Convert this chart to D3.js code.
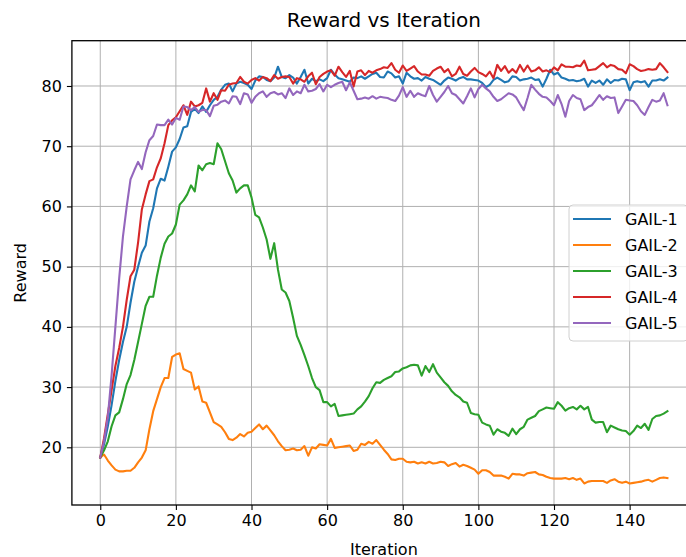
<!DOCTYPE html>
<html><head><meta charset="utf-8">
<script src="https://cdn.jsdelivr.net/npm/d3@7"></script>
<style>body{margin:0;background:#fff}svg{display:block;font-family:"DejaVu Sans",sans-serif}</style>
</head><body><svg id="c" width="686" height="557"></svg>
<script>
const seriesNames = ["GAIL-1","GAIL-2","GAIL-3","GAIL-4","GAIL-5"];
const colors = ["#1f77b4","#ff7f0e","#2ca02c","#d62728","#9467bd"];
const xTicks = [0,20,40,60,80,100,120,140];
const yTicks = [20,30,40,50,60,70,80];

const gail1 = [18.3,20.5,23.5,27,31,34.5,37.5,40,44,47.5,50,52.3,53.5,57.5,59.7,63,64.6,64.3,66.6,69.1,
69.8,71.2,73.1,73.3,75.7,76.2,75.5,76.6,75.7,76.8,77.7,78.2,79.4,80.2,80.4,79.1,80.4,80.7,80.5,80.2,
79.5,80.9,81.6,81.5,81,80.8,81.4,83.2,81.5,81.3,81.8,81.4,80.4,81.5,82.7,80.4,81.2,80.8,81.1,80.8,
81.3,82.7,81.9,81.3,81.1,80.9,80.7,81.4,81.3,81.6,81.2,81.6,82,82.2,81.5,81.4,82.4,82.1,81.4,81.6,
80.4,82.2,81.6,81.2,81.3,80.9,81.5,81.2,81,80.6,80.2,80.9,81.4,81.2,80.9,81.3,81.5,81.1,81.1,81,
80.9,80.5,79.8,80.2,81,81.4,81,80.6,80.8,81.6,81.5,80.9,81.1,81.2,81.4,81,81.1,79.9,81.2,82.7,
81.9,82.2,81.4,81.2,80.9,81,80.8,80.9,81.2,79.9,80.9,80.5,80.9,80.2,81.1,80.5,81,80.9,81.2,81.1,
79.3,80.6,80.8,80.6,80.8,79.9,80.9,80.9,81.1,80.9,81.4];
const gail2 = [18.3,18.8,17.8,17,16.3,16,16,16.1,16.1,16.6,17.5,18.3,19.5,23,26,28,30,31.5,31.5,35,
35.4,35.6,33,32.7,32.4,29.6,30.1,27.6,27.4,25.8,24.2,23.8,23.4,22.5,21.4,21.2,21.6,22.2,21.8,22.4,
22.6,23.2,23.8,23,23.6,22.8,22,21,20.2,19.5,19.6,19.8,19.5,19.6,20.2,18.6,20,19.8,20.5,20.4,
20.3,21.4,19.9,20,20.1,20.2,20.3,19.4,19.6,20.6,20.4,20.9,20.6,21.2,20.4,19.6,18.9,18,17.9,18.1,
18.1,17.6,17.5,17.6,17.3,17.5,17.3,17.6,17.3,17.4,17.6,17.5,16.9,17.2,17.4,16.8,17.1,16.9,16.6,16.3,
15.6,16.2,16.2,15.9,15.3,15.3,15.3,15.1,14.8,15.6,15.5,15.5,15.3,15.7,15.8,15.9,15.5,15.4,15.1,14.9,
14.8,14.8,14.8,14.9,14.7,14.9,14.6,14.8,14,14.3,14.4,14.4,14.4,14.4,14.1,14.5,14.7,14.3,14.1,14.3,
14,14.1,14.2,14.3,14.5,14.6,14.3,14.6,14.9,15,14.9];
const gail3 = [18.3,19.5,21,23.5,25.3,25.8,28,30.5,32,34.5,37.5,40.5,43.5,45,45,48.5,51.5,53.8,55,55.5,
57,60.3,61,62,63.5,62.5,66.8,66,67,67.2,67,70.5,69.5,67.5,65.5,64.3,62.3,63,63.5,63.5,
61.5,58.6,58.2,56.5,54.5,51.3,53.9,49.5,46.2,45.7,44.3,41.5,38.5,37,35.3,33.5,31.5,30,29.5,27.5,
27.5,26.8,27.2,25.2,25.3,25.4,25.5,25.6,26.3,26.8,27.6,28.5,29.8,30.8,30.7,31.2,31.5,31.8,32.5,32.6,
33.1,33.3,33.6,33.7,33.6,31.9,33.5,32.5,33.8,32.4,31.6,30.8,30.2,29.3,28.7,28.3,27.6,27.4,25.7,25.5,
25.4,24.1,23.8,23.6,22.1,23,22.6,22.4,21.9,23.1,22.2,23,23.4,24.6,24.9,25.2,26,26.3,26.6,26.5,
26.4,27.5,26.9,26.1,26.5,26.7,26.3,26.9,26.3,26.7,24.6,24.1,24.2,24.2,22.5,23.6,23.3,23,22.8,22.7,
22.1,22.7,23.6,23.2,23.9,22.9,24.7,25.2,25.3,25.6,26];
const gail4 = [18.3,21.5,25.5,29.5,33.5,36.5,40,44.5,48.4,49.5,54,59.5,62,64.2,64.5,66.5,68,70.5,73.5,74.3,
74.8,75.8,76.8,75.2,77.4,76.6,76.8,77.2,79.6,77.4,78.8,77.7,79.3,79.2,80.2,80.4,80.5,81.5,80.7,80.4,
81,81.3,80.9,81.5,81.3,80.8,81.8,81.2,81.5,81.6,81.5,80.4,81.3,81.1,80.7,81.6,82.2,80.3,81.5,82,
82.4,82.6,81.7,83.2,82.3,81.5,82.5,79.9,82.4,82.6,81.8,82.5,82.2,82.6,82.8,83.1,83,83.8,82.7,82.2,
83.4,82.5,82.9,83.3,82.4,81.9,81.9,81.7,82.5,82.9,83.2,82.3,82.8,81.6,82,83.2,82,81.7,82.4,83,
82.3,82,81.6,82.4,81.3,83.5,82.5,83.3,82.2,82.8,82.2,83.5,82.4,83.4,82.4,82.6,83.1,82.4,82.6,82.3,
83.1,82.6,83.6,83.2,83.2,83.1,83.4,83.3,84.2,82.6,82.7,82.8,83.3,83.8,83.1,83.5,83.3,82.8,82.7,82.1,
83.6,83.3,82.8,82.5,82.6,82.8,82.7,82.8,83.8,83.1,82.3];
const gail5 = [18.3,21,25,32,40,48,55,60,64.5,66,67.4,66.2,69,71,71.7,73.6,73.5,73.5,74.4,73.6,
74.7,74.4,76.6,76.5,76,76.5,75.7,76,76,75,76.7,76.9,77.4,77.6,77.1,78.3,78.2,77,78.8,78.6,
77.2,78.2,78.8,79.1,78.2,78.8,79,78.6,78.8,78,79.6,78.5,79.1,78.8,80.2,79.1,79.2,79.5,80.3,79.1,
80.2,79.8,80.2,80.5,80.7,79.3,80.6,79.2,77.8,77.9,78.1,77.9,78.3,77.9,78.2,78.1,78,77.7,77.5,78.4,
79.8,78.2,79.2,78.2,78.8,78.5,78.3,80,78.5,77.4,78.2,79,80,78.8,78.5,77.8,77.1,78.3,79.6,78.1,
79.5,80.2,79.6,79.1,78.2,77.5,77.8,78.3,78.8,78.6,78.1,77,76,78,80.2,79.4,78.7,78.2,78.1,77.5,
76.8,78.5,77,74.9,77.5,78.5,78,77.8,76,76.5,76.8,77.6,78.5,77.7,78.3,78,78.1,75.5,76.6,77.7,
77.6,77.5,76.8,75.8,75.2,76.5,77.7,77.4,77.6,78.8,76.8];
const seriesData = [gail1,gail2,gail3,gail4,gail5];

const svg = d3.select("#c");
const L = 71.9, R = 695.8, T = 40.7, B = 505;
const x = d3.scaleLinear().domain([-7.5,157.5]).range([L,R]);
const y = d3.scaleLinear().domain([10.42,87.52]).range([B,T]);

// grid
const g = svg.append("g");
g.selectAll(".gx").data(xTicks).enter().append("line")
  .attr("x1",d=>x(d)).attr("x2",d=>x(d)).attr("y1",T).attr("y2",B)
  .attr("stroke","#b0b0b0").attr("stroke-width",1);
g.selectAll(".gy").data(yTicks).enter().append("line")
  .attr("x1",L).attr("x2",R).attr("y1",d=>y(d)).attr("y2",d=>y(d))
  .attr("stroke","#b0b0b0").attr("stroke-width",1);

// lines
const line = d3.line().x((d,i)=>x(i)).y(d=>y(d));
seriesData.forEach((s,k)=>{
  svg.append("path").datum(s).attr("d",line).attr("fill","none")
    .attr("stroke",colors[k]).attr("stroke-width",2.1).attr("stroke-linejoin","round").attr("stroke-linecap","square");
});

// axes
const xAxis = d3.axisBottom(x).tickValues(xTicks).tickSize(5).tickPadding(5);
const yAxis = d3.axisLeft(y).tickValues(yTicks).tickSize(5).tickPadding(5);
const gx = svg.append("g").attr("transform",`translate(0,${B})`).call(xAxis);
const gy = svg.append("g").attr("transform",`translate(${L},0)`).call(yAxis);
[gx,gy].forEach(a=>{
  a.select(".domain").remove();
  a.selectAll("line").attr("stroke","#000").attr("stroke-width",1.1);
  a.selectAll("text").attr("font-size",16).attr("fill","#000").attr("font-family","DejaVu Sans");
});
// spines
svg.append("rect").attr("x",L).attr("y",T).attr("width",R-L).attr("height",B-T)
  .attr("fill","none").attr("stroke","#000").attr("stroke-width",1.3);

// titles
svg.append("text").attr("x",(L+R)/2).attr("y",27).attr("text-anchor","middle")
  .attr("font-size",20).attr("fill","#000").text("Reward vs Iteration");
svg.append("text").attr("x",(L+R)/2).attr("y",554.5).attr("text-anchor","middle")
  .attr("font-size",16).attr("fill","#000").text("Iteration");
svg.append("text").attr("transform",`translate(26,${(T+B)/2}) rotate(-90)`).attr("text-anchor","middle")
  .attr("font-size",16).attr("fill","#000").text("Reward");

// legend
const lg = svg.append("g");
lg.append("rect").attr("x",569).attr("y",205).attr("width",119).attr("height",136).attr("rx",4)
  .attr("fill","#fff").attr("fill-opacity",0.8).attr("stroke","#d0d0d0").attr("stroke-width",1);
seriesNames.forEach((n,k)=>{
  const yy = 219 + k*26;
  lg.append("line").attr("x1",573).attr("x2",611).attr("y1",yy).attr("y2",yy)
    .attr("stroke",colors[k]).attr("stroke-width",2.1);
  lg.append("text").attr("x",625).attr("y",yy+5.8).attr("font-size",16).attr("fill","#000").text(n);
});
</script></body></html>
